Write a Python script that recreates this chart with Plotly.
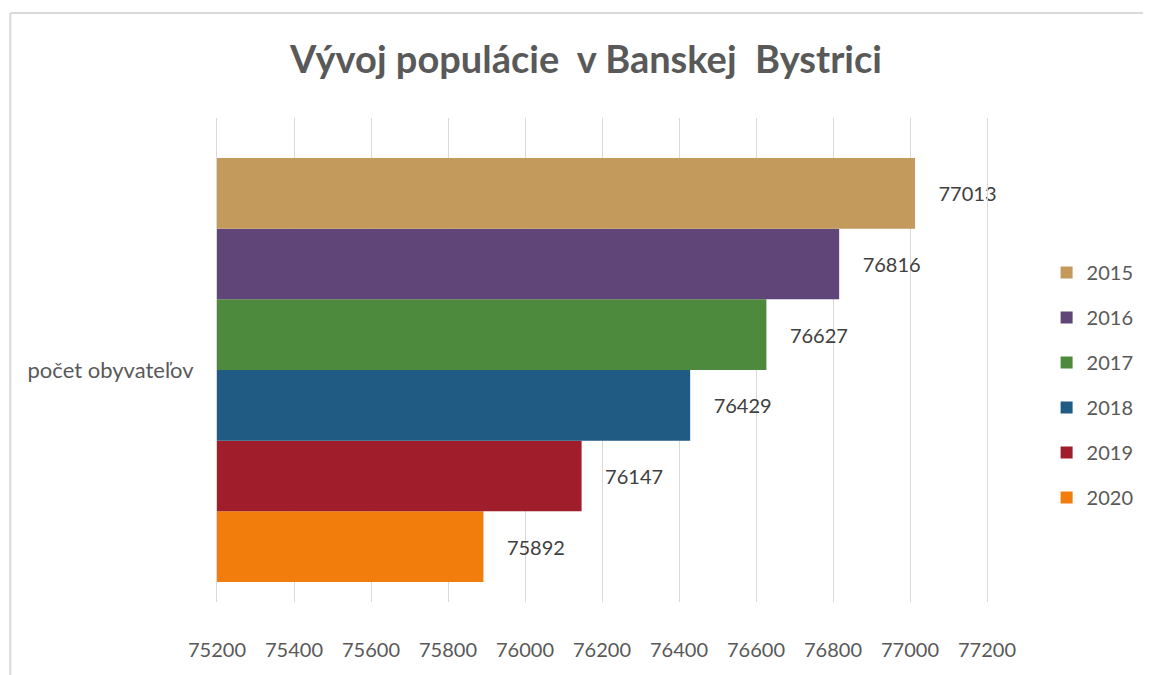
import plotly.graph_objects as go

category = "počet obyvateľov"
years = ["2015", "2016", "2017", "2018", "2019", "2020"]
population = [77013, 76816, 76627, 76429, 76147, 75892]
colors = ["#C49A5C", "#5F4578", "#4E8A3E", "#1F5B82", "#A01E2B", "#F27C0C"]
x_ticks = [75200, 75400, 75600, 75800, 76000, 76200, 76400, 76600, 76800, 77000, 77200]

FONT = "Lato"
GRAY = "#595959"

fig = go.Figure()
# add in reverse so that 2015 sits on top of the group
for rank, (yr, val, col) in reversed(list(enumerate(zip(years, population, colors)))):
    fig.add_trace(go.Bar(
        y=[category], x=[val], name=yr, orientation="h",
        marker=dict(color=col, line=dict(width=0)),
        text=[val], texttemplate="\u00a0\u00a0\u00a0\u00a0%{x:d}", textposition="outside",
        textfont=dict(family=FONT, size=20, color="#404040"),
        cliponaxis=False, legendgroup=yr, legendrank=rank + 1,
    ))

# page body has an 8px margin, so the figure is offset by (8, 8)
OFF = 8
W, H = 1151 - OFF, 675 - OFF
L, T = 217 - OFF, 118 - OFF
pw, ph = 775, 484
R = W - L - pw
B = H - T - ph

def px_x(x):
    return (x - OFF - L) / pw

def px_y(y):
    return (T + ph - (y - OFF)) / ph

fig.update_layout(
    width=W, height=H,
    margin=dict(l=L, r=R, t=T, b=B),
    paper_bgcolor="white", plot_bgcolor="white",
    barmode="group", bargap=0.124, bargroupgap=0,
    title=dict(text="Vývoj populácie  v Banskej  Bystrici", x=(586 - OFF) / W, xanchor="center",
               y=1 - (60 - OFF) / H, yanchor="middle",
               font=dict(family=FONT, size=38, color=GRAY, weight="bold")),
    xaxis=dict(range=[75200, 77200], tickvals=x_ticks, tickformat="d", showgrid=True,
               gridcolor="#D9D9D9", gridwidth=1, zeroline=False, showline=False,
               ticks="", ticklabelstandoff=34,
               tickfont=dict(family=FONT, size=20, color=GRAY)),
    yaxis=dict(range=[-0.4793, 0.5207], showgrid=False, zeroline=False,
               showline=True, linecolor="#D9D9D9", linewidth=1, mirror=True,
               ticks="", ticklabelstandoff=18,
               tickfont=dict(family=FONT, size=22, color=GRAY)),
    legend=dict(x=px_x(1052), xanchor="left", y=px_y(253), yanchor="top",
                traceorder="grouped", tracegroupgap=16,
                font=dict(family=FONT, size=20, color=GRAY),
                bgcolor="rgba(0,0,0,0)"),
    showlegend=True,
)

# outer chart frame (top and left edges visible)
fig.add_shape(type="line", xref="paper", yref="paper",
              x0=px_x(9), x1=px_x(1150), y0=px_y(13), y1=px_y(13),
              line=dict(color="#D9D9D9", width=2), layer="below")
fig.add_shape(type="line", xref="paper", yref="paper",
              x0=px_x(9), x1=px_x(9), y0=px_y(13), y1=px_y(675),
              line=dict(color="#D9D9D9", width=2), layer="below")

fig.write_html("out.html")
